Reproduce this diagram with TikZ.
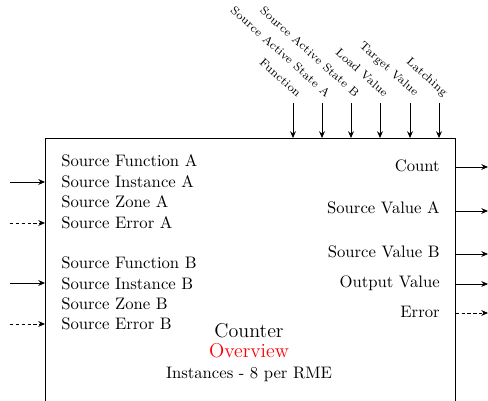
\documentclass[tikz,border=0pt]{standalone}
\usetikzlibrary{arrows.meta,positioning}
\begin{document}
\begin{tikzpicture}[x=0.6pt, y=0.6pt,
  blk/.style={draw, minimum width=246pt, minimum height=180pt, inner sep=0pt},
  sig/.style={-{Stealth[length=4pt,width=3.5pt]}, semithick},
  errsig/.style={sig, dash pattern=on 2pt off 1.5pt},
  inlbl/.style={anchor=base west, inner sep=0pt},
  outlbl/.style={anchor=base east, inner sep=0pt},
  toplbl/.style={anchor=east, rotate=-42, font=\fontsize{7}{8}\selectfont, inner sep=1pt}
]
\useasboundingbox (0,0) rectangle (488,400);
\node[blk, anchor=north west] (cnt) at (45,262) {};
% inputs
\node[inlbl] (sfa) at (61,234) {Source Function A};
\node[inlbl] (sia) at (61,213) {Source Instance A};
\node[inlbl] (sza) at (61,193) {Source Zone A};
\node[inlbl] (sea) at (61,172) {Source Error A};
\node[inlbl] (sfb) at (61,132) {Source Function B};
\node[inlbl] (sib) at (61,111) {Source Instance B};
\node[inlbl] (szb) at (61,91) {Source Zone B};
\node[inlbl] (seb) at (61,71) {Source Error B};
\coordinate (inA) at (10,218);
\coordinate (errA) at (10,177);
\coordinate (inB) at (10,117);
\coordinate (errB) at (10,76);
\draw[sig] (inA) -- (inA -| cnt.west);
\draw[errsig] (errA) -- (errA -| cnt.west);
\draw[sig] (inB) -- (inB -| cnt.west);
\draw[errsig] (errB) -- (errB -| cnt.west);
% outputs
\node[outlbl] (count) at (440,229) {Count};
\node[outlbl] (sva) at (440,187) {Source Value A};
\node[outlbl] (svb) at (440,143) {Source Value B};
\node[outlbl] (outv) at (440,113) {Output Value};
\node[outlbl] (errv) at (440,83) {Error};
\coordinate (oCount) at (488,233);
\coordinate (oSva) at (488,189);
\coordinate (oSvb) at (488,146);
\coordinate (oOut) at (488,116);
\coordinate (oErr) at (488,87);
\draw[sig] (oCount -| cnt.east) -- (oCount);
\draw[sig] (oSva -| cnt.east) -- (oSva);
\draw[sig] (oSvb -| cnt.east) -- (oSvb);
\draw[sig] (oOut -| cnt.east) -- (oOut);
\draw[errsig] (oErr -| cnt.east) -- (oErr);
% control inputs on top
\coordinate (tFn) at (293,297);
\coordinate (tSa) at (322,297);
\coordinate (tSb) at (351,297);
\coordinate (tLd) at (380,297);
\coordinate (tTg) at (410,297);
\coordinate (tLt) at (439,297);
\draw[sig] (tFn) -- (tFn |- cnt.north);
\draw[sig] (tSa) -- (tSa |- cnt.north);
\draw[sig] (tSb) -- (tSb |- cnt.north);
\draw[sig] (tLd) -- (tLd |- cnt.north);
\draw[sig] (tTg) -- (tTg |- cnt.north);
\draw[sig] (tLt) -- (tLt |- cnt.north);
\node[toplbl] (lFn) at ([shift={(8,7)}]tFn) {Function};
\node[toplbl] (lSa) at ([shift={(8,7)}]tSa) {Source Active State A};
\node[toplbl] (lSb) at ([shift={(8,7)}]tSb) {Source Active State B};
\node[toplbl] (lLd) at ([shift={(8,7)}]tLd) {Load Value};
\node[toplbl] (lTg) at ([shift={(8,7)}]tTg) {Target Value};
\node[toplbl] (lLt) at ([shift={(8,7)}]tLt) {Latching};
% title
\node[anchor=base, font=\large, inner sep=0pt] (ttl) at (249,63) {Counter};
\node[anchor=base, font=\large, text=red, inner sep=0pt] (ovw) at (249,43) {Overview};
\node[anchor=base, inner sep=0pt] (inst) at (249,22) {Instances - 8 per RME};
\end{tikzpicture}
\end{document}
